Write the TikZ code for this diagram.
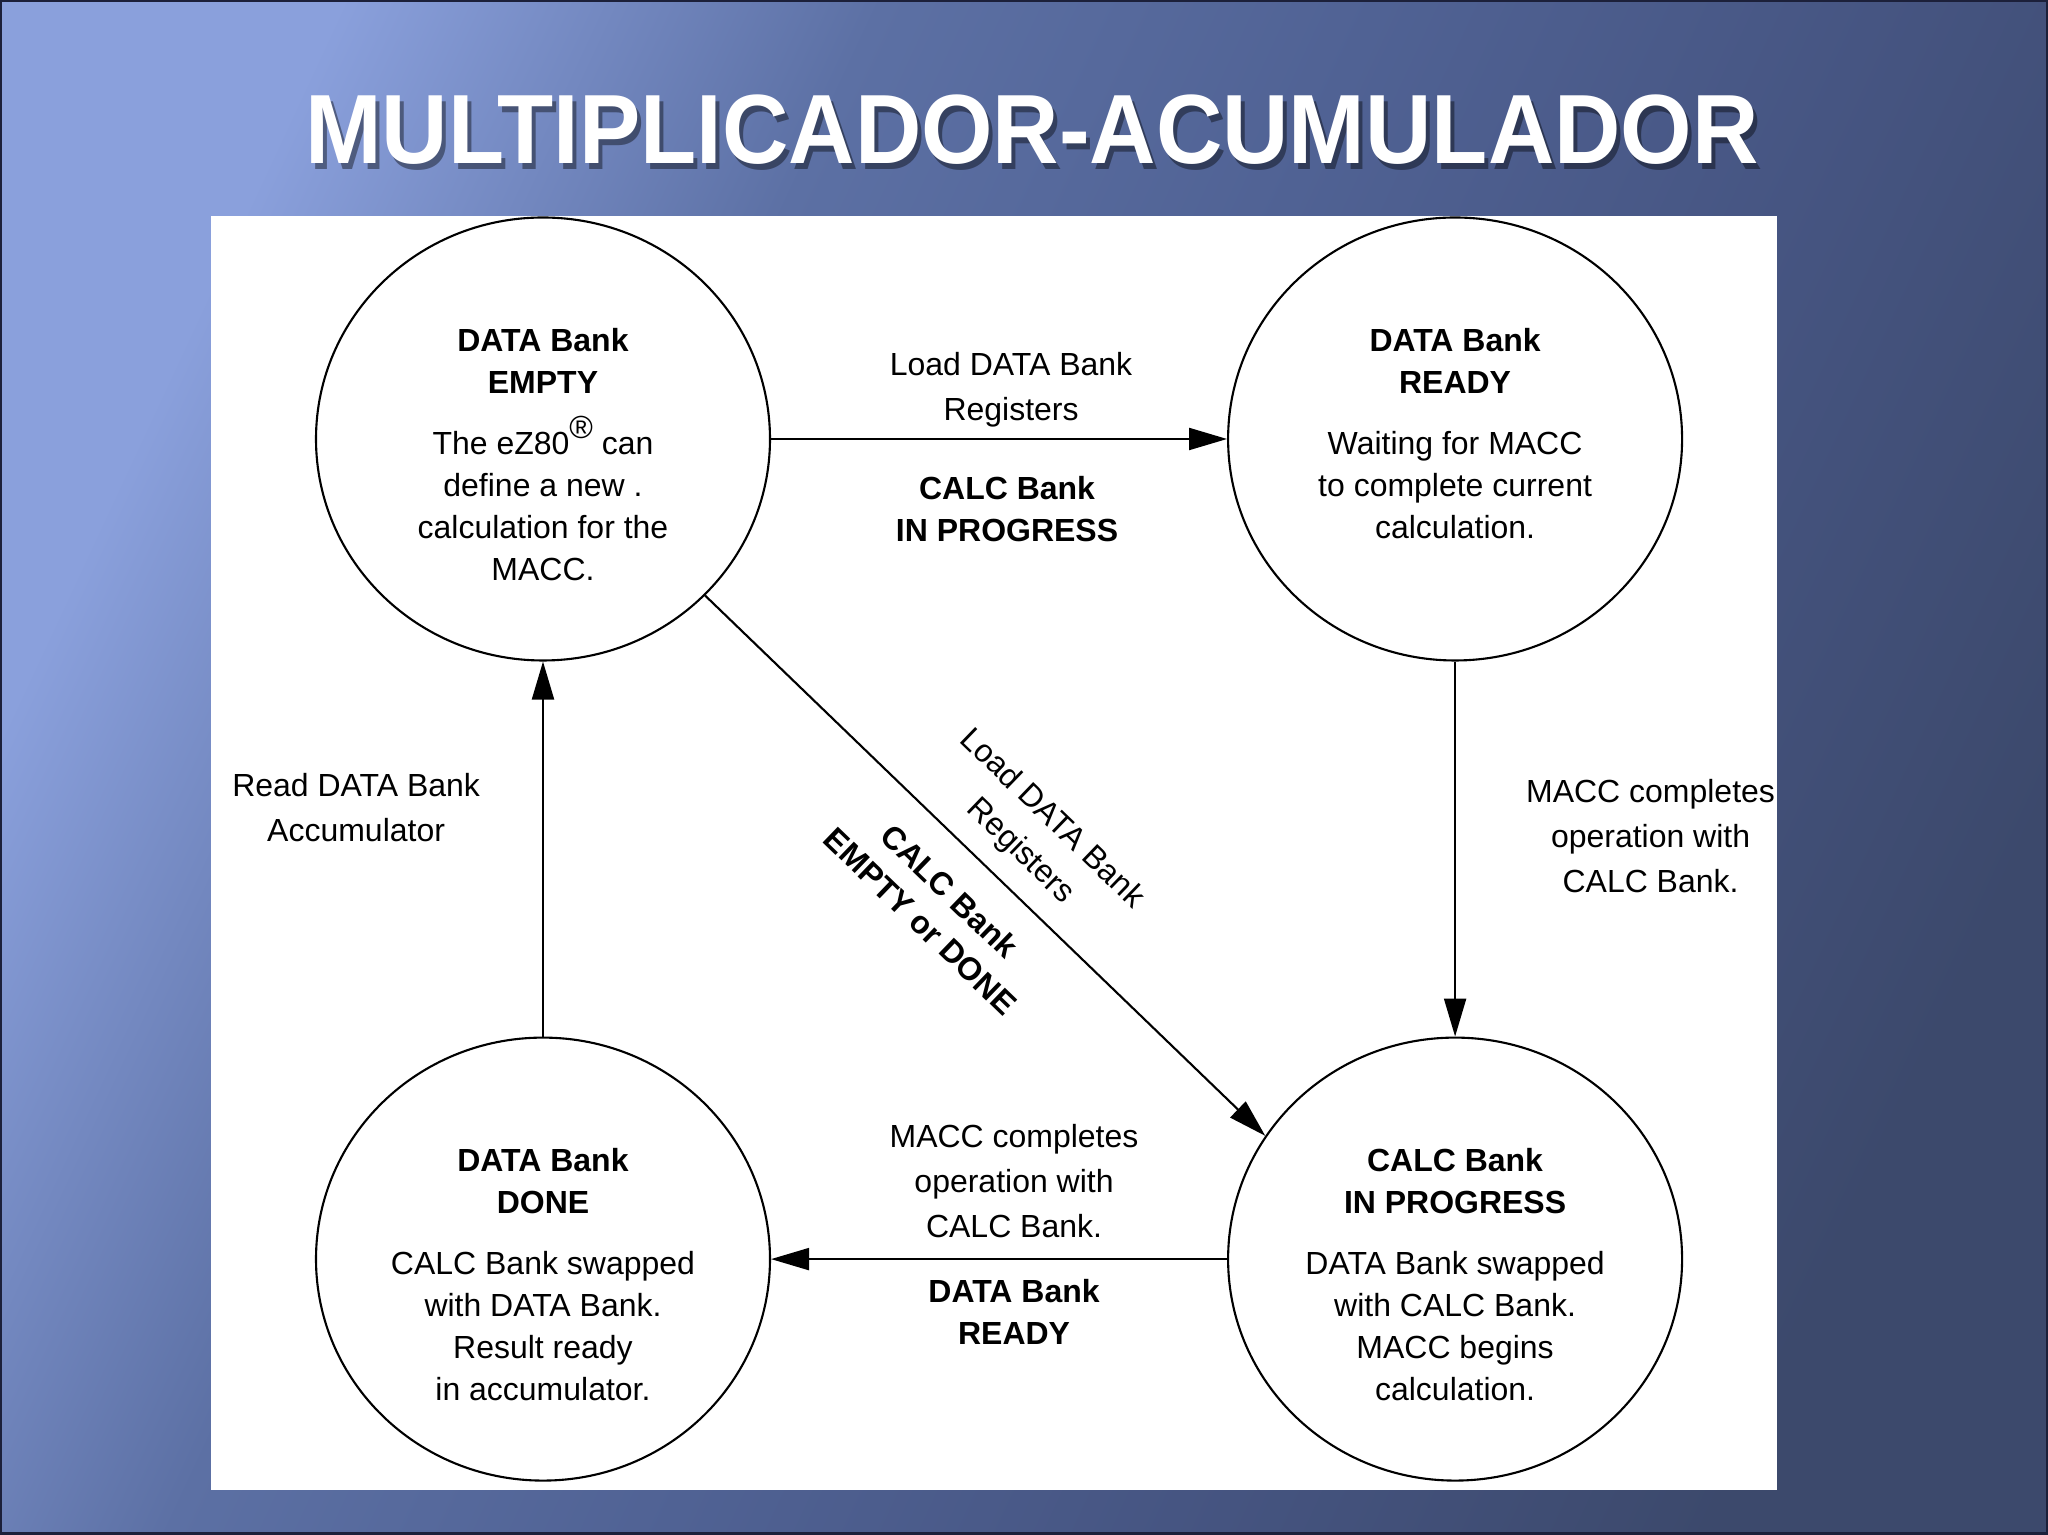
\documentclass[tikz,border=0pt]{standalone}
\usepackage{fontspec}
\setmainfont{Liberation Sans}
\usetikzlibrary{positioning, arrows.meta, shapes.geometric}
\definecolor{bgA}{RGB}{138,160,220}
\definecolor{bgB}{RGB}{92,112,164}
\definecolor{bgC}{RGB}{80,98,148}
\definecolor{bgD}{RGB}{70,85,130}
\definecolor{bgE}{RGB}{60,73,108}
\definecolor{slideframe}{RGB}{28,32,58}
\pgfdeclarehorizontalshading{slidebg}{100bp}{color(0bp)=(bgA); color(25bp)=(bgA); color(38bp)=(bgB); color(50bp)=(bgC); color(62bp)=(bgD); color(75bp)=(bgE); color(100bp)=(bgE)}

\begin{document}
\begin{tikzpicture}[
        bankstate/.style={ellipse, draw, line width=0.6pt, minimum width=4.54cm, minimum height=4.43cm, inner sep=0pt},
        statetext/.style={align=center, inner sep=0pt, font=\fontsize{9.1}{11.95}\selectfont},
        lbl/.style={align=center, inner sep=0pt, font=\fontsize{9.1}{12.8}\selectfont},
        lblbold/.style={align=center, inner sep=0pt, font=\fontsize{9.1}{11.95}\selectfont\bfseries},
        arrow/.style={-{Triangle[length=3.8mm, width=2.2mm]}, line width=0.6pt},
        titletext/.style={font=\fontsize{28}{30}\selectfont\bfseries, xscale=0.934, inner sep=0pt}
    ]
        % slide background
        \shade[shading=slidebg, shading angle=-25] (0,0) rectangle (20.48,15.35);
        \draw[slideframe, line width=0.25mm] (0.0125,0.0125) rectangle (20.4675,15.3375);
        \fill[white] (2.11,0.45) rectangle (17.77,13.19);

        % title
        \node[titletext, text=black, opacity=0.4] (TITLESH) at (10.36,13.99) {MULTIPLICADOR-ACUMULADOR};
        \node[titletext, text=white] (TITLE) at (10.32,14.05) {MULTIPLICADOR-ACUMULADOR};

        % states
        \node[bankstate] (EMPTY) at (5.43,10.96) {};
        \node[bankstate, right=4.56cm of EMPTY] (READY) {};
        \node[bankstate, below=3.75cm of READY] (CALC) {};
        \node[bankstate, left=4.56cm of CALC] (DONE) {};

        \node[statetext, below=1.11cm of EMPTY.north] (EMPTYT) {\textbf{DATA Bank}\\\textbf{EMPTY}\\[5.4pt]The eZ80\raisebox{4.4pt}{\textregistered} can\\define a new .\\calculation for the\\MACC.};
        \node[statetext, below=1.11cm of READY.north] (READYT) {\textbf{DATA Bank}\\\textbf{READY}\\[5.4pt]Waiting for MACC\\to complete current\\calculation.};
        \node[statetext, below=1.11cm of CALC.north] (CALCT) {\textbf{CALC Bank}\\\textbf{IN PROGRESS}\\[5.4pt]DATA Bank swapped\\with CALC Bank.\\MACC begins\\calculation.};
        \node[statetext, below=1.11cm of DONE.north] (DONET) {\textbf{DATA Bank}\\\textbf{DONE}\\[5.4pt]CALC Bank swapped\\with DATA Bank.\\Result ready\\in accumulator.};

        % transitions
        \draw[arrow] (EMPTY) -- (READY)
            node[lbl, midway, above=0.11cm, xshift=0.12cm] (LOADTOP) {Load DATA Bank\\Registers}
            node[lblbold, midway, below=0.36cm, xshift=0.08cm] (BUSYTOP) {CALC Bank\\IN PROGRESS};
        \draw[arrow] (READY) -- (CALC)
            node[lbl, midway, right=0.70cm, yshift=0.13cm] (DONERIGHT) {MACC completes\\operation with\\CALC Bank.};
        \draw[arrow] (CALC) -- (DONE)
            node[lbl, midway, above=0.2cm, xshift=0.15cm] (DONEBOT) {MACC completes\\operation with\\CALC Bank.}
            node[lblbold, midway, below=0.19cm, xshift=0.15cm] (READYBOT) {DATA Bank\\READY};
        \draw[arrow] (DONE) -- (EMPTY)
            node[lbl, midway, left=0.62cm, yshift=0.415cm] (READLEFT) {Read DATA Bank\\Accumulator};
        \draw[arrow] (EMPTY.-44) -- (CALC.147)
            node[lbl, pos=0.52, sloped, above=0.185cm] (LOADDIAG) {Load DATA Bank\\Registers}
            node[lblbold, pos=0.49, sloped, below=0.3cm] (FREEDIAG) {CALC Bank\\EMPTY or DONE};
\end{tikzpicture}
\end{document}
